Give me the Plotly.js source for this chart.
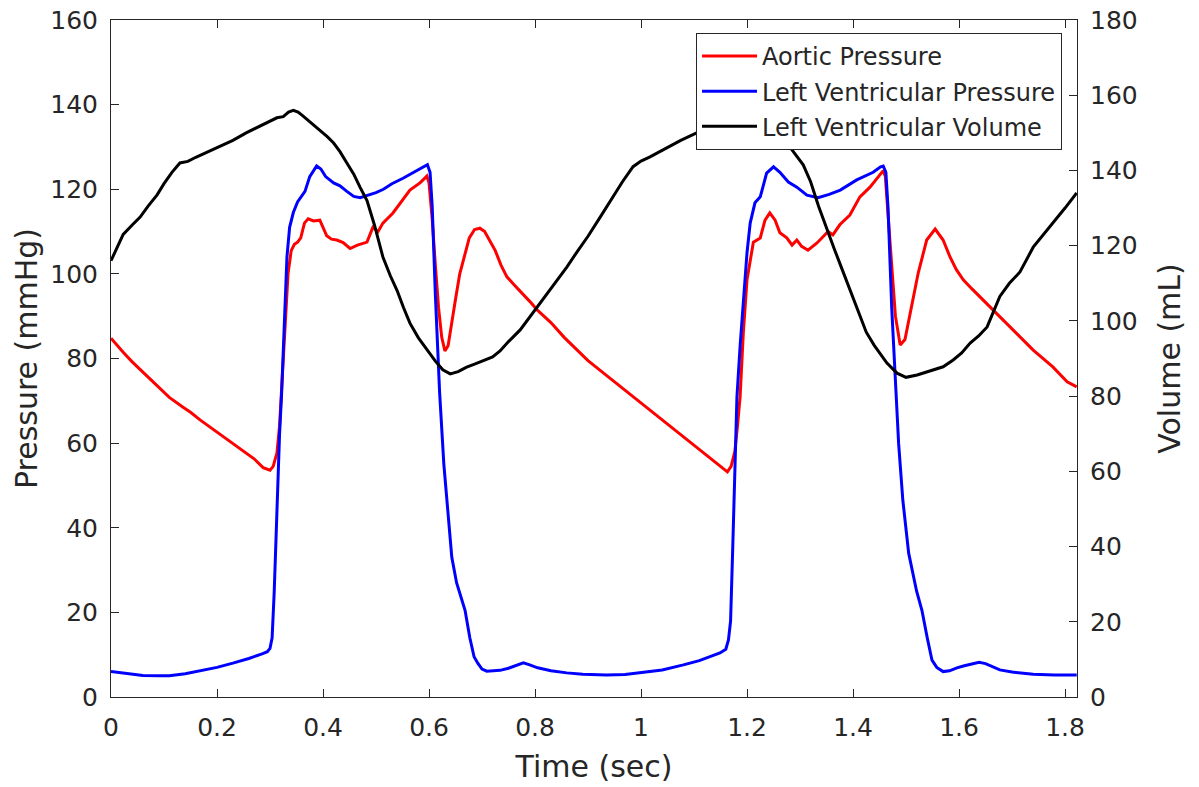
<!DOCTYPE html>
<html>
<head>
<meta charset="utf-8">
<script src="https://cdn.plot.ly/plotly-3.0.1.min.js"></script>
<style>
html,body{margin:0;padding:0;background:#fff;}
#chart{width:1199px;height:787px;}
</style>
</head>
<body>
<div id="chart"></div>
<script>
// Aortic pressure (mmHg)
var aoT = [0.000,0.012,0.023,0.040,0.060,0.075,0.089,0.110,0.136,0.150,0.168,0.190,0.210,0.230,0.250,0.270,0.287,0.300,0.306,0.313,0.318,0.323,0.328,0.334,0.340,0.346,0.352,0.358,0.365,0.372,0.382,0.394,0.407,0.416,0.426,0.438,0.451,0.465,0.483,0.494,0.504,0.513,0.532,0.551,0.564,0.583,0.596,0.600,0.606,0.612,0.618,0.624,0.630,0.636,0.643,0.650,0.658,0.667,0.676,0.686,0.696,0.705,0.714,0.725,0.736,0.747,0.760,0.772,0.790,0.804,0.830,0.855,0.879,0.900,0.930,0.960,0.985,1.010,1.040,1.070,1.100,1.130,1.150,1.163,1.170,1.177,1.182,1.187,1.193,1.200,1.212,1.225,1.234,1.243,1.253,1.262,1.275,1.285,1.294,1.303,1.315,1.332,1.343,1.353,1.362,1.375,1.394,1.413,1.432,1.447,1.457,1.461,1.466,1.473,1.480,1.489,1.498,1.508,1.523,1.539,1.555,1.570,1.583,1.595,1.608,1.624,1.640,1.668,1.702,1.740,1.777,1.804,1.822];
var aoP = [84.8,83.2,81.5,79.2,76.8,75.0,73.3,70.8,68.5,67.3,65.5,63.5,61.8,60.0,58.2,56.3,54.2,53.6,54.5,57.6,64,75,88,100,105.5,107,107.5,108.5,112,113,112.5,112.7,109,108.2,108,107.4,106,106.8,107.5,111,110,112,114.4,117.5,119.8,121.5,123.1,121.5,113,102,92,85,81.8,83,88,94,100,104.5,108.5,110.5,110.8,110,108,105.5,102,99.3,97.5,96,93.5,91.5,88.5,85,82,79.5,76.5,73.5,71,68.5,65.5,62.5,59.5,56.5,54.5,53.2,54.5,58,64,71,86,98.6,107.5,108.5,112.7,114.4,112.7,109.7,108.5,106.8,108,106.5,105.6,107.3,108.7,110,109.2,111.6,113.9,118.2,120.5,122.9,124.4,123,115,102,90,83.2,84.5,90.8,100.2,108,110.6,108,104,101,98.6,96.5,94.5,91,86.7,82,78,74.5,73.3];

// Left ventricular pressure (mmHg)
var lvT = [0.000,0.030,0.060,0.090,0.110,0.140,0.170,0.200,0.230,0.260,0.285,0.295,0.300,0.304,0.308,0.313,0.318,0.322,0.327,0.332,0.337,0.344,0.352,0.358,0.366,0.375,0.388,0.396,0.405,0.420,0.432,0.445,0.458,0.470,0.485,0.500,0.514,0.530,0.551,0.570,0.590,0.597,0.602,0.606,0.612,0.620,0.628,0.634,0.643,0.652,0.662,0.668,0.677,0.685,0.692,0.700,0.709,0.720,0.734,0.750,0.765,0.778,0.790,0.805,0.830,0.860,0.890,0.935,0.970,1.000,1.040,1.080,1.110,1.149,1.160,1.165,1.169,1.173,1.177,1.181,1.187,1.193,1.200,1.206,1.215,1.225,1.237,1.250,1.262,1.278,1.294,1.313,1.334,1.355,1.376,1.407,1.438,1.452,1.457,1.462,1.466,1.473,1.479,1.486,1.494,1.505,1.520,1.530,1.540,1.549,1.558,1.570,1.582,1.596,1.610,1.625,1.638,1.650,1.665,1.677,1.700,1.740,1.780,1.822];
var lvP = [6,5.5,5.1,5.0,5.0,5.5,6.2,7.0,8.0,9.1,10.2,10.7,11.5,14,25,46,62,72,90,104,111,114.5,117,118,119.5,123,125.5,124.8,123,121.5,120.8,119.5,118.3,118,118.6,119.2,120,121.3,122.6,124,125.3,125.8,124,116,95,72,55,46.5,33,27,23,20.5,14,9.5,8,6.6,6.1,6.2,6.3,6.8,7.5,8.1,7.6,6.9,6.2,5.7,5.4,5.2,5.3,5.7,6.4,7.6,8.6,10.4,11.3,13.5,18,35,55,70.9,83,92.2,105,112,116.8,118.2,123.8,125.3,124,121.7,120.5,118.6,118,118.8,119.8,122.2,124,125.3,125.5,124,115.8,92,76.6,60,46.5,34,25,20.5,14,8.7,7,6,6.2,6.9,7.4,7.9,8.2,7.9,7,6.4,5.9,5.4,5.2,5.2];

// Left ventricular volume (mL)
var vT = [0.000,0.012,0.023,0.040,0.055,0.070,0.087,0.100,0.115,0.130,0.145,0.160,0.181,0.200,0.230,0.255,0.281,0.300,0.313,0.325,0.335,0.344,0.353,0.362,0.375,0.394,0.408,0.420,0.432,0.445,0.458,0.470,0.483,0.497,0.513,0.527,0.540,0.552,0.564,0.580,0.596,0.612,0.626,0.640,0.655,0.671,0.686,0.702,0.720,0.734,0.750,0.772,0.790,0.810,0.835,0.860,0.880,0.900,0.923,0.945,0.965,0.985,1.000,1.017,1.035,1.049,1.075,1.105,1.130,1.160,1.185,1.205,1.225,1.250,1.265,1.281,1.306,1.320,1.335,1.350,1.365,1.380,1.395,1.410,1.425,1.440,1.464,1.483,1.500,1.521,1.551,1.570,1.589,1.605,1.621,1.637,1.653,1.665,1.677,1.695,1.715,1.740,1.760,1.777,1.800,1.822];
var vV = [116,119.5,123,125.5,127.6,130.5,133.5,136.5,139.5,142,142.4,143.5,144.8,146,148,150,151.8,153,154,154.3,155.5,156,155.5,154.5,153,150.8,149,147.3,145,142,139,135.5,132,125.5,117,112,108,103.5,99.4,95.5,92.3,89.3,87,85.9,86.5,87.7,88.5,89.3,90.4,92,94.5,97.6,101,104.8,109.5,114.3,118.5,122.5,127.6,132.5,137,141,142.5,143.6,145,146.2,148,150,151.5,153.5,155,156,155,151.5,149,146.2,141.5,137,130.5,124.5,119,113.5,108,102,97,93.5,88.8,86.1,85,85.6,86.9,87.8,89.6,91.5,94.1,96,98.4,102.5,106.5,110,113,119.6,123,126,130,134];

var axColor = '#262626';
var fontFam = 'DejaVu Sans, Arial, sans-serif';

var traces = [
  {x: aoT, y: aoP, type: 'scatter', mode: 'lines', name: 'Aortic Pressure',
   line: {color: '#ff0000', width: 3}, legendgroup: 'a'},
  {x: lvT, y: lvP, type: 'scatter', mode: 'lines', name: 'Left Ventricular Pressure',
   line: {color: '#0000ff', width: 3}, legendgroup: 'b'},
  {x: vT, y: vV, type: 'scatter', mode: 'lines', name: 'Left Ventricular Volume',
   line: {color: '#000000', width: 3}, yaxis: 'y2', legendgroup: 'c'}
];

var tickFont = {family: fontFam, size: 25, color: axColor};
var titleFont = {family: fontFam, size: 30, color: axColor};

var layout = {
  width: 1199, height: 787,
  margin: {l: 111, r: 122, t: 20, b: 90},
  paper_bgcolor: '#ffffff', plot_bgcolor: '#ffffff',
  font: {family: fontFam, color: axColor},
  showlegend: true,
  legend: {
    x: 0.9845, y: 0.981, xanchor: 'right', yanchor: 'top',
    bgcolor: '#ffffff', bordercolor: axColor, borderwidth: 1,
    font: {family: fontFam, size: 24, color: axColor},
    tracegroupgap: 1, itemwidth: 55
  },
  xaxis: {
    range: [0, 1.8226], dtick: 0.2, tick0: 0,
    showline: true, linecolor: axColor, linewidth: 1, mirror: 'ticks',
    ticks: 'inside', ticklen: 8, tickcolor: axColor, tickwidth: 1,
    showgrid: false, zeroline: false,
    tickfont: tickFont, ticklabelstandoff: 8,
    title: {text: 'Time (sec)', font: titleFont, standoff: 14}
  },
  yaxis: {
    range: [0, 160], dtick: 20, tick0: 0,
    showline: true, linecolor: axColor, linewidth: 1,
    ticks: 'inside', ticklen: 8, tickcolor: axColor, tickwidth: 1,
    showgrid: false, zeroline: false,
    tickfont: tickFont, ticklabelstandoff: 7,
    title: {text: 'Pressure (mmHg)', font: titleFont, standoff: 3}
  },
  yaxis2: {
    range: [0, 180], dtick: 20, tick0: 0,
    overlaying: 'y', side: 'right',
    showline: true, linecolor: axColor, linewidth: 1,
    ticks: 'inside', ticklen: 8, tickcolor: axColor, tickwidth: 1,
    showgrid: false, zeroline: false,
    tickfont: tickFont, ticklabelstandoff: 7,
    title: {text: 'Volume (mL)', font: titleFont, standoff: 22}
  }
};

Plotly.newPlot('chart', traces, layout, {displayModeBar: false, staticPlot: true});
</script>
</body>
</html>
